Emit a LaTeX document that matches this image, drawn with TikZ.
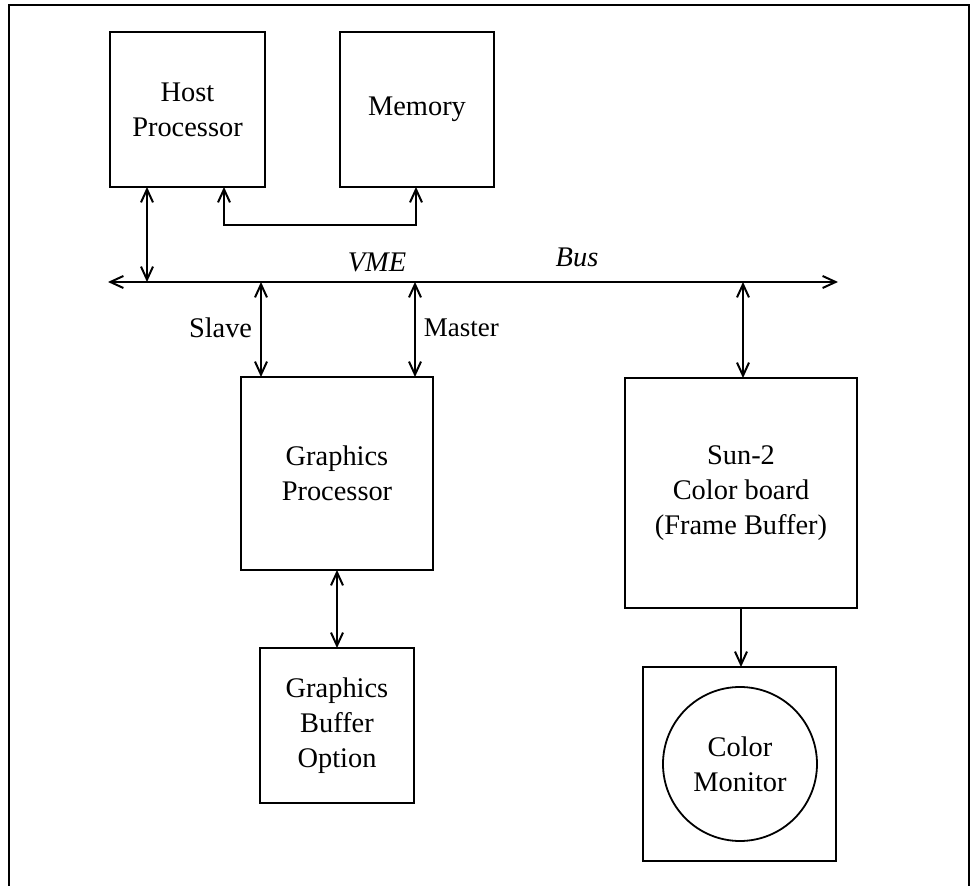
\documentclass[tikz,border=0pt]{standalone}
\usepackage{fontspec}
\setmainfont{Liberation Serif}
\usetikzlibrary{arrows.meta,calc}
\begin{document}
\begin{tikzpicture}[x=0.5pt,y=-0.5pt,
  line width=0.9pt,
  every node/.style={font=\fontsize{14.2}{17.5}\selectfont},
  blk/.style={draw,rectangle,inner sep=0pt,outer sep=0pt,align=center},
  arr/.style={-{Straight Barb[length=6.5pt,width=6pt,line width=1pt]}},
  darr/.style={{Straight Barb[length=6.5pt,width=6pt,line width=1pt]}-{Straight Barb[length=6.5pt,width=6pt,line width=1pt]}},
  lbl/.style={inner sep=0pt}]
\useasboundingbox (0,0) rectangle (976,886);
% frame (open at bottom)
\draw (9,886) -- (9,5) -- (969,5) -- (969,886);
% blocks
\node[blk,minimum width=77.5pt,minimum height=77.5pt] (host) at (187.5,109.5) {Host\\Processor};
\node[blk,minimum width=77pt,minimum height=77.5pt] (mem) at (417,109.5) {Memory};
\node[blk,minimum width=96pt,minimum height=96.5pt] (gp) at (337,473.5) {Graphics\\Processor};
\node[blk,minimum width=77pt,minimum height=77.5pt] (gbo) at (337,725.5) {Graphics\\Buffer\\Option};
\node[blk,minimum width=116pt,minimum height=115pt] (sun) at (741,493) {Sun-2\\Color board\\(Frame Buffer)};
\node[blk,minimum width=96.5pt,minimum height=97pt] (mon) at (739.5,764) {};
\node[draw,circle,minimum size=77pt,inner sep=0pt,align=center] (crt) at (740,764) {Color\\Monitor};
% bus
\coordinate (busL) at (108,282);
\coordinate (busR) at (838,282);
\draw[darr] (busL) -- (busR);
\node[lbl,font=\fontsize{14.2}{17.5}\selectfont\itshape] (vme) at (377,262) {VME};
\node[lbl,font=\fontsize{14.2}{17.5}\selectfont\itshape] (bus) at (577,257) {Bus};
% x positions
\coordinate (xh) at (147,0);
\coordinate (xhm) at (224,0);
\coordinate (xm) at (416,0);
\coordinate (xs) at (261,0);
\coordinate (xma) at (415,0);
\coordinate (xsun) at (743,0);
\coordinate (xmon) at (741,0);
\coordinate (yhm) at (0,225);
% connectors
\draw[darr] (xh |- host.south) -- (xh |- busL);
\draw[darr] (xhm |- host.south) -- (xhm |- yhm) -- (xm |- yhm) -- (xm |- mem.south);
\draw[darr] (xs |- busL) -- (xs |- gp.north);
\draw[darr] (xma |- busL) -- (xma |- gp.north);
\draw[darr] (xsun |- busL) -- (xsun |- sun.north);
\draw[darr] (gp.south) -- (gbo.north);
\draw[arr] (xmon |- sun.south) -- (xmon |- mon.north);
\node[lbl,anchor=east] (slave) at (253,328) {Slave};
\node[lbl,anchor=west,font=\fontsize{13.5}{17}\selectfont] (master) at (423,328) {Master};
\end{tikzpicture}
\end{document}
